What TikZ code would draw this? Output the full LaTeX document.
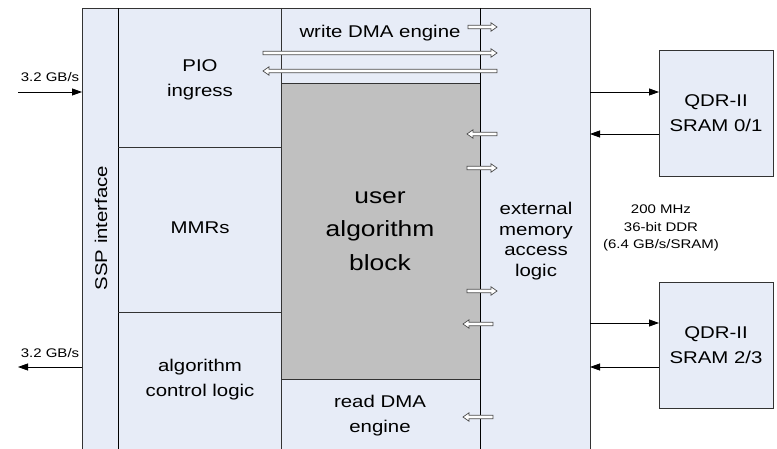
\documentclass[tikz,border=0pt]{standalone}
\usepackage{fontspec}
\setmainfont{Liberation Sans}[FakeStretch=1.2]
\usetikzlibrary{arrows.meta,positioning}
\definecolor{blkfill}{RGB}{231,236,247}
\definecolor{usrfill}{RGB}{192,192,192}
\tikzset{
  blk/.style={draw=black!80,fill=blkfill,line width=0.9pt},
  txt/.style={align=center,inner sep=0pt,font=\fontsize{17}{25}\selectfont},
  bigtxt/.style={align=center,inner sep=0pt,font=\fontsize{22}{33.5}\selectfont},
  smalltxt/.style={align=center,inner sep=0pt,font=\fontsize{12.5}{17.5}\selectfont},
  qdr/.style={blk,minimum width=114pt,minimum height=126pt,inner sep=0pt,outer sep=0pt,txt},
  sarr/.style={-{Triangle[length=10pt,width=7pt]},line width=0.8pt},
  hol/.style={draw=black!70,fill=white,line width=0.7pt,line join=miter}
}
\begin{document}
\begin{tikzpicture}[x=1pt,y=-1pt]
\useasboundingbox (0,0) rectangle (777,449);
\clip (0,0) rectangle (777,449);
\node[blk,minimum width=508pt,minimum height=480pt,inner sep=0pt,outer sep=0pt,anchor=north west] (frame) at (82,8) {};
\fill[usrfill] (281,83) rectangle (480,379);
\draw[line width=0.9pt,black!80] (281,83) rectangle (480,379);
\draw[line width=0.9pt] (118,8) -- (118,460);
\draw[line width=0.9pt,black!80] (281,8) -- (281,460);
\draw[line width=0.9pt] (480,8) -- (480,460);
\draw[line width=0.9pt,black!80] (118,147) -- (281,147) (118,312) -- (281,312);
\node[txt,rotate=90] (ssp) at (101,228) {SSP interface};
\node[txt] (pio) at (200,80) {PIO\\ingress};
\node[txt] (mmr) at (200,228) {MMRs};
\node[txt] (acl) at (200,380) {algorithm\\control logic};
\node[txt] (wdma) at (380,33) {write DMA engine};
\node[bigtxt] (uab) at (380,231) {user\\algorithm\\block};
\node[txt] (rdma) at (380,416) {read DMA\\engine};
\node[txt,font=\fontsize{17}{20.5}\selectfont] (ema) at (536,241) {external\\memory\\access\\logic};
\node[qdr] (sram01) at (716,113) {QDR-II\\SRAM 0/1};
\node[qdr] (sram23) at (716,345) {QDR-II\\SRAM 2/3};
\node[smalltxt] (ddr) at (661,228) {200 MHz\\36-bit DDR\\(6.4 GB/s/SRAM)};
\node[smalltxt] (bwin) at (50,77) {3.2 GB/s};
\node[smalltxt] (bwout) at (50,353) {3.2 GB/s};
\coordinate (bwi) at (18,92);
\coordinate (bwo) at (18,367);
\draw[sarr] (bwi) -- (bwi -| frame.west);
\draw[sarr] (bwo -| frame.west) -- (bwo);
\coordinate (m0) at ([yshift=21pt]sram01.west);
\coordinate (m1) at ([yshift=-21pt]sram01.west);
\coordinate (m2) at ([yshift=22pt]sram23.west);
\coordinate (m3) at ([yshift=-22pt]sram23.west);
\draw[sarr] (m0 -| frame.east) -- (m0);
\draw[sarr] (m1) -- (m1 -| frame.east);
\draw[sarr] (m2 -| frame.east) -- (m2);
\draw[sarr] (m3) -- (m3 -| frame.east);
% hollow block arrows
\foreach \xa/\xb/\y in {468/497/27,263/497/53,497/263/71,497/467/134,467/497/168,467/497/291,493/463/324,493/463/417}{
  \pgfmathsetmacro{\xc}{\xb-6*sign(\xb-\xa)}
  \draw[hol] (\xa,\y-1.8) -- (\xc,\y-1.8) -- (\xc,\y-4.2) -- (\xb,\y)
    -- (\xc,\y+4.2) -- (\xc,\y+1.8) -- (\xa,\y+1.8) -- cycle;
}
\end{tikzpicture}
\end{document}
